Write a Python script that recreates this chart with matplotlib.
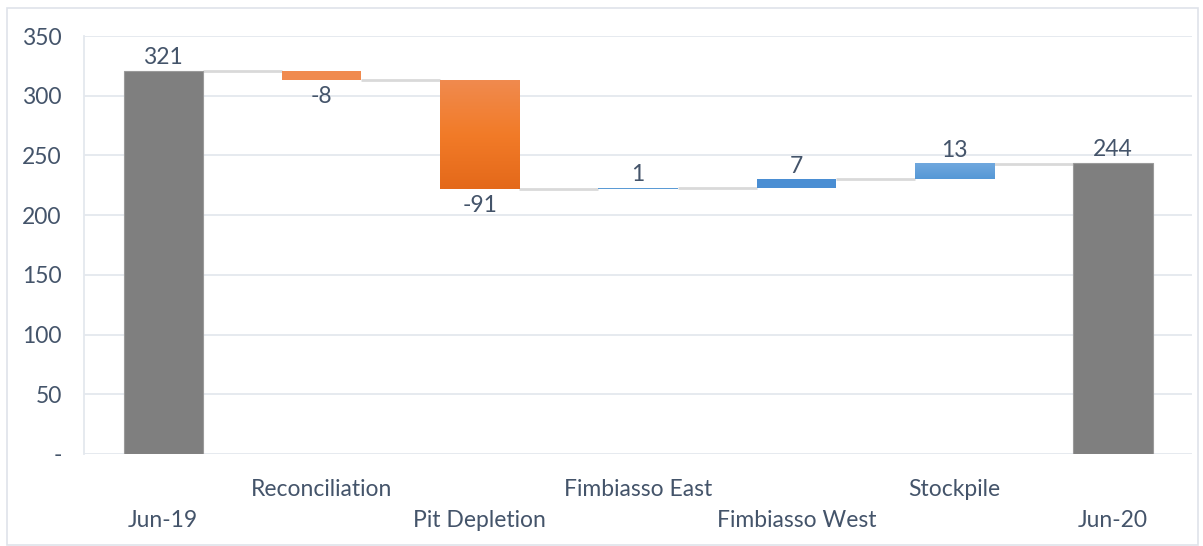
import numpy as np
import matplotlib
matplotlib.use("Agg")
import matplotlib.pyplot as plt
from matplotlib.patches import Rectangle

# waterfall data
cats = ["Jun-19", "Reconciliation", "Pit Depletion", "Fimbiasso East",
        "Fimbiasso West", "Stockpile", "Jun-20"]
vals = [321, -8, -91, 1, 7, 13, 244]
is_total = [True, False, False, False, False, False, True]

txt = "#44546A"
fs = 16.5
plt.rcParams['font.family'] = ['Lato', 'DejaVu Sans']

fig = plt.figure(figsize=(12.03, 5.46), dpi=100)
ax = fig.add_axes([0.0698, 0.1685, 0.9212, 0.7655])

# outer border of the chart
fig.patches.append(Rectangle((0.006, 0.002), 0.99, 0.984, transform=fig.transFigure,
                             fill=False, edgecolor="#dfe3ea", lw=1.2))

w = 0.5
bottoms = []
tops = []
run = 0
for v, t in zip(vals, is_total):
    if t:
        bottoms.append(0)
        tops.append(v)
        run = v
    else:
        new = run + v
        bottoms.append(min(run, new))
        tops.append(max(run, new))
        run = new

def grad_bar(x, y0, y1, c_top, c_mid, c_bot):
    # vertical gradient fill via imshow
    g = np.linspace(0, 1, 64)
    ct = np.array(matplotlib.colors.to_rgb(c_top))
    cm = np.array(matplotlib.colors.to_rgb(c_mid))
    cb = np.array(matplotlib.colors.to_rgb(c_bot))
    img = np.zeros((64, 1, 3))
    for k, gg in enumerate(g):
        if gg < 0.5:
            img[k, 0] = ct * (1 - 2 * gg) + cm * 2 * gg
        else:
            img[k, 0] = cm * (2 - 2 * gg) + cb * (2 * gg - 1)
    ax.imshow(img, extent=[x - w / 2, x + w / 2, y0, y1], origin="upper",
              aspect="auto", zorder=3, interpolation="bilinear")

for i, (v, t) in enumerate(zip(vals, is_total)):
    b, tp = bottoms[i], tops[i]
    if t:
        ax.bar(i, tp - b, bottom=b, width=w, color="#7f7f7f", edgecolor="#9a9a9a",
               lw=0.8, zorder=3)
    elif i == 2:
        grad_bar(i, b, tp, "#f08a4e", "#f27b28", "#e4691a")
    elif i == 5:
        grad_bar(i, b, tp, "#70a8de", "#63a0da", "#5598d6")
    elif v < 0:
        ax.bar(i, tp - b, bottom=b, width=w, color="#f08a4e", zorder=3)
    else:
        ax.bar(i, tp - b, bottom=b, width=w, color="#4a8ed3" if v > 3 else "#5b9bd5",
               zorder=3)

# connectors
level = 0
for i, (v, t) in enumerate(zip(vals, is_total)):
    level = v if t else level + v
    if i < len(vals) - 1:
        ax.plot([i + w / 2, i + 1 - w / 2], [level, level], color="#d9d9d9",
                lw=2, zorder=2, solid_capstyle="butt")

# data labels
for i, v in enumerate(vals):
    if v < 0:
        ax.text(i, bottoms[i] - 5, str(v), ha="center", va="top", fontsize=fs,
                color=txt)
    else:
        ax.text(i, tops[i] + 2, str(v), ha="center", va="bottom", fontsize=fs,
                color=txt)

ax.set_xlim(-0.5, 6.5)
ax.set_ylim(0, 350)
ax.set_yticks(range(0, 351, 50))
ax.set_yticklabels(["-"] + [str(t) for t in range(50, 351, 50)])
ax.tick_params(axis="y", length=0, labelsize=fs, labelcolor=txt, pad=16)
ax.set_xticks([])
ax.grid(axis="y", color="#e4e8ee", lw=1.3, zorder=0)
ax.set_axisbelow(True)
for s in ["top", "right", "bottom"]:
    ax.spines[s].set_visible(False)
ax.spines["left"].set_color("#e4e8ee")
ax.spines["left"].set_linewidth(1.3)

# staggered category labels
trans = matplotlib.transforms.blended_transform_factory(ax.transData, ax.transAxes)
for i, c in enumerate(cats):
    yy = -0.085 if i % 2 == 1 else -0.16
    ax.text(i, yy, c, ha="center", va="center", fontsize=fs, color=txt,
            transform=trans)

fig.savefig("out.png", dpi=100)
